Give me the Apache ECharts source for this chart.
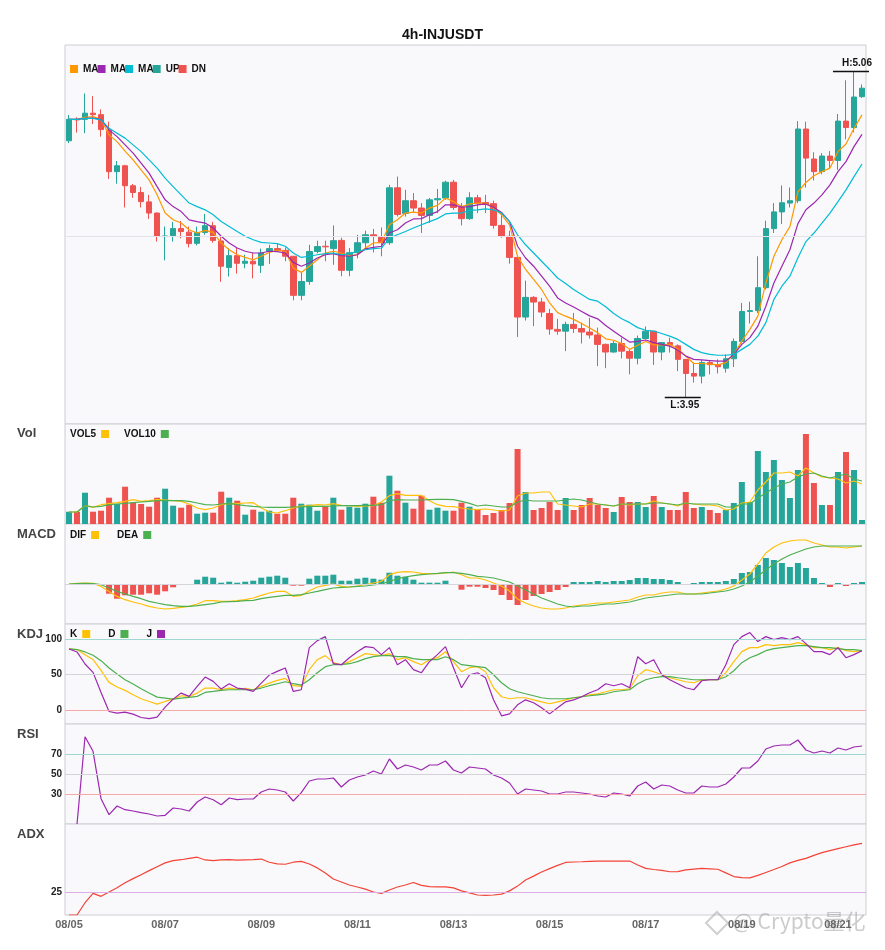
<!DOCTYPE html>
<html>
<head>
<meta charset="utf-8">
<title>4h-INJUSDT</title>
<script src="https://cdn.jsdelivr.net/npm/echarts/dist/echarts.min.js"></script>
<style>
  html, body { margin: 0; padding: 0; background: #fff; }
  #chart { width: 885px; height: 950px; }
</style>
</head>
<body>
<div id="chart"></div>
<script>
// 4h candles from 08/05 00:00 to 08/21 12:00
const days = ['08/05', '08/06', '08/07', '08/08', '08/09', '08/10', '08/11', '08/12', '08/13',
  '08/14', '08/15', '08/16', '08/17', '08/18', '08/19', '08/20', '08/21'];
const hours = ['00:00', '04:00', '08:00', '12:00', '16:00', '20:00'];
const dates = [];
days.forEach(d => hours.forEach(h => dates.push(d + ' ' + h)));
dates.length = 100;

// [open, close, low, high]
const candles = [
  [4.824, 4.897, 4.816, 4.912], [4.897, 4.895, 4.852, 4.904], [4.897, 4.918, 4.850, 4.985], [4.918, 4.913, 4.881, 4.976],
  [4.913, 4.862, 4.838, 4.931], [4.861, 4.719, 4.694, 4.889], [4.719, 4.739, 4.678, 4.755], [4.739, 4.671, 4.597, 4.742],
  [4.671, 4.648, 4.630, 4.677], [4.648, 4.617, 4.597, 4.667], [4.616, 4.578, 4.558, 4.640], [4.578, 4.499, 4.481, 4.580],
  [4.498, 4.500, 4.417, 4.532], [4.501, 4.525, 4.481, 4.548], [4.525, 4.515, 4.492, 4.551], [4.513, 4.474, 4.461, 4.532],
  [4.475, 4.512, 4.468, 4.532], [4.512, 4.535, 4.504, 4.575], [4.535, 4.485, 4.477, 4.548], [4.483, 4.397, 4.344, 4.499],
  [4.393, 4.433, 4.362, 4.459], [4.433, 4.407, 4.372, 4.459], [4.407, 4.414, 4.390, 4.436], [4.414, 4.405, 4.356, 4.442],
  [4.400, 4.442, 4.374, 4.457], [4.447, 4.457, 4.405, 4.470], [4.457, 4.451, 4.446, 4.473], [4.451, 4.431, 4.414, 4.461],
  [4.431, 4.298, 4.281, 4.431], [4.298, 4.345, 4.281, 4.376], [4.345, 4.447, 4.334, 4.470], [4.447, 4.464, 4.441, 4.484],
  [4.465, 4.463, 4.414, 4.484], [4.457, 4.484, 4.402, 4.536], [4.485, 4.383, 4.363, 4.494], [4.383, 4.443, 4.363, 4.459],
  [4.443, 4.477, 4.424, 4.504], [4.477, 4.504, 4.458, 4.518], [4.504, 4.498, 4.444, 4.524], [4.498, 4.477, 4.431, 4.529],
  [4.477, 4.664, 4.470, 4.674], [4.664, 4.573, 4.566, 4.702], [4.577, 4.620, 4.566, 4.657], [4.620, 4.595, 4.578, 4.646],
  [4.595, 4.570, 4.510, 4.612], [4.570, 4.623, 4.544, 4.629], [4.623, 4.627, 4.578, 4.660], [4.629, 4.683, 4.623, 4.688],
  [4.683, 4.597, 4.589, 4.691], [4.597, 4.559, 4.536, 4.612], [4.559, 4.630, 4.555, 4.649], [4.630, 4.612, 4.578, 4.640],
  [4.614, 4.607, 4.578, 4.640], [4.610, 4.536, 4.525, 4.620], [4.536, 4.499, 4.494, 4.581], [4.499, 4.427, 4.406, 4.518],
  [4.427, 4.224, 4.156, 4.427], [4.224, 4.291, 4.212, 4.348], [4.291, 4.275, 4.193, 4.295], [4.275, 4.241, 4.224, 4.289],
  [4.236, 4.183, 4.164, 4.252], [4.182, 4.176, 4.164, 4.218], [4.176, 4.199, 4.108, 4.208], [4.199, 4.185, 4.170, 4.238],
  [4.185, 4.173, 4.134, 4.205], [4.173, 4.163, 4.151, 4.221], [4.163, 4.131, 4.057, 4.188], [4.131, 4.105, 4.050, 4.134],
  [4.105, 4.134, 4.103, 4.142], [4.134, 4.108, 4.083, 4.154], [4.107, 4.084, 4.029, 4.116], [4.084, 4.151, 4.063, 4.161],
  [4.151, 4.176, 4.148, 4.192], [4.176, 4.105, 4.061, 4.176], [4.105, 4.137, 4.077, 4.139], [4.137, 4.130, 4.103, 4.154],
  [4.126, 4.080, 4.040, 4.131], [4.080, 4.032, 3.950, 4.080], [4.032, 4.023, 4.001, 4.069], [4.023, 4.069, 3.998, 4.078],
  [4.069, 4.062, 4.029, 4.078], [4.062, 4.055, 4.032, 4.080], [4.050, 4.082, 4.035, 4.097], [4.082, 4.141, 4.054, 4.151],
  [4.141, 4.243, 4.134, 4.272], [4.243, 4.246, 4.202, 4.276], [4.246, 4.324, 4.238, 4.431], [4.324, 4.525, 4.318, 4.552],
  [4.525, 4.582, 4.510, 4.612], [4.582, 4.613, 4.541, 4.672], [4.612, 4.620, 4.597, 4.665], [4.620, 4.864, 4.612, 4.891],
  [4.864, 4.765, 4.665, 4.889], [4.762, 4.719, 4.689, 4.785], [4.719, 4.772, 4.710, 4.782], [4.772, 4.757, 4.731, 4.789],
  [4.757, 4.891, 4.725, 4.915], [4.891, 4.869, 4.829, 5.030], [4.869, 4.973, 4.853, 5.060], [4.974, 5.003, 4.970, 5.016]
];

const ma5 = [4.897, 4.897, 4.904, 4.906, 4.897, 4.844, 4.821, 4.789, 4.759, 4.725,
  4.691, 4.640, 4.578, 4.555, 4.544, 4.521, 4.510, 4.519, 4.512, 4.476,
  4.453, 4.436, 4.427, 4.419, 4.431, 4.444, 4.451, 4.448, 4.391, 4.376,
  4.397, 4.419, 4.442, 4.448, 4.442, 4.433, 4.436, 4.459, 4.476, 4.478,
  4.538, 4.555, 4.578, 4.581, 4.578, 4.595, 4.604, 4.629, 4.617, 4.600,
  4.609, 4.612, 4.612, 4.595, 4.572, 4.538, 4.431, 4.386, 4.352, 4.318,
  4.272, 4.239, 4.227, 4.216, 4.202, 4.187, 4.171, 4.150, 4.145, 4.134,
  4.114, 4.128, 4.141, 4.129, 4.129, 4.131, 4.116, 4.091, 4.066, 4.066,
  4.064, 4.061, 4.069, 4.097, 4.142, 4.182, 4.227, 4.340, 4.431, 4.487,
  4.532, 4.650, 4.682, 4.705, 4.719, 4.731, 4.787, 4.813, 4.866, 4.912];
const ma10 = [4.897, 4.897, 4.900, 4.901, 4.897, 4.861, 4.838, 4.810, 4.782, 4.748,
  4.714, 4.668, 4.623, 4.600, 4.583, 4.555, 4.549, 4.544, 4.527, 4.499,
  4.476, 4.459, 4.448, 4.442, 4.442, 4.448, 4.447, 4.442, 4.410, 4.397,
  4.408, 4.425, 4.436, 4.440, 4.433, 4.431, 4.436, 4.456, 4.461, 4.465,
  4.510, 4.521, 4.544, 4.558, 4.559, 4.572, 4.583, 4.606, 4.606, 4.598,
  4.600, 4.606, 4.609, 4.598, 4.580, 4.549, 4.465, 4.425, 4.397, 4.363,
  4.329, 4.289, 4.272, 4.258, 4.243, 4.228, 4.218, 4.195, 4.176, 4.157,
  4.139, 4.141, 4.146, 4.137, 4.131, 4.125, 4.112, 4.091, 4.080, 4.078,
  4.076, 4.074, 4.074, 4.097, 4.131, 4.154, 4.193, 4.261, 4.340, 4.397,
  4.453, 4.542, 4.589, 4.612, 4.640, 4.674, 4.719, 4.753, 4.804, 4.846];
const ma20 = [4.897, 4.897, 4.900, 4.900, 4.895, 4.867, 4.850, 4.833, 4.810, 4.787,
  4.759, 4.731, 4.697, 4.668, 4.640, 4.612, 4.600, 4.589, 4.572, 4.549,
  4.532, 4.515, 4.499, 4.487, 4.478, 4.476, 4.474, 4.465, 4.442, 4.427,
  4.431, 4.436, 4.440, 4.442, 4.436, 4.439, 4.448, 4.453, 4.457, 4.459,
  4.493, 4.504, 4.515, 4.527, 4.538, 4.549, 4.559, 4.575, 4.578, 4.578,
  4.587, 4.589, 4.592, 4.589, 4.578, 4.549, 4.504, 4.470, 4.442, 4.414,
  4.386, 4.357, 4.338, 4.318, 4.301, 4.284, 4.278, 4.259, 4.236, 4.218,
  4.205, 4.188, 4.179, 4.176, 4.168, 4.159, 4.148, 4.131, 4.114, 4.103,
  4.097, 4.094, 4.094, 4.097, 4.114, 4.131, 4.159, 4.205, 4.284, 4.329,
  4.363, 4.426, 4.481, 4.510, 4.544, 4.578, 4.617, 4.657, 4.702, 4.745];

// volume (k)
const volume = [12.3, 12.3, 31.3, 12.3, 13.3, 26.3, 20, 37.3, 21.3, 20,
  17.3, 26.3, 35.3, 18.3, 16.3, 19.3, 10.3, 11.3, 11.3, 32.3,
  26.3, 23.3, 9.3, 14.3, 12.3, 13.3, 10.3, 10.3, 26.3, 20.3,
  19.3, 13.3, 17.3, 26.3, 14.3, 17.3, 16.3, 20.3, 27.3, 21.3,
  48.3, 33.3, 21.3, 15.3, 28.3, 14.3, 16.3, 13.3, 13.3, 21.3,
  17.3, 14.3, 9, 11, 14, 21, 75, 32, 14, 16,
  22, 14, 26, 14, 19, 26, 19, 16, 12, 27,
  22, 22, 17, 28, 17, 14, 14, 32, 16, 17,
  14, 11, 14, 21, 42, 22, 73, 52, 64, 44,
  26, 54, 90, 41, 19, 19, 52, 72, 54, 4];
const vol5 = [12, 12, 18.3, 16.6, 19.3, 20.3, 21.3, 22.6, 24.3, 22.6,
  23.3, 24.3, 24, 23.3, 22.6, 20, 16, 14.3, 16, 19.3,
  20.6, 20.3, 21, 21.3, 16, 12, 11, 13.3, 16, 18,
  18.3, 19.3, 19, 20.3, 18.6, 18.3, 17.6, 18, 18.3, 22,
  28.3, 30.3, 28.6, 28.6, 28.6, 23.3, 19.3, 17.6, 17.3, 16,
  15, 14.3, 15, 14, 13, 14, 28, 31, 31, 32,
  32, 20, 19, 18, 17, 20, 20, 19, 18, 20,
  19, 20, 20, 23, 21, 20, 18, 21, 20, 19,
  19, 18, 14, 15, 21, 22, 34, 42, 51, 51,
  52, 48, 56, 51, 47, 46, 45, 41, 43, 40];
const vol10 = [12, 12, 18.3, 17, 17.6, 19.3, 20, 20.6, 21.3, 22,
  22.6, 23.3, 23.3, 23.3, 23.3, 22.6, 21, 19.3, 19, 20,
  20.6, 19.3, 18.3, 17.6, 17, 16.6, 16.6, 16.6, 17, 17,
  17.6, 17.6, 17.6, 18, 18.3, 18.3, 18.3, 18.6, 18.6, 19.3,
  23.3, 24.3, 24, 24, 24, 24.3, 24.6, 24.6, 24.3, 22.6,
  20.6, 18, 19, 18, 17, 17, 22, 24, 23, 23,
  23, 23, 24, 25, 24, 22, 20, 19, 18, 20,
  20, 20, 20, 21, 21, 20, 19, 21, 20, 20,
  20, 20, 17, 17, 20, 20, 26, 31, 36, 40,
  42, 47, 50, 51, 48, 46, 48, 50, 45, 43];

// MACD (x1e-3)
const dif = [0, 0.6, 1, 0.6, -2.4, -7.4, -12.4, -15.7, -18, -20,
  -22.4, -24, -25, -24.4, -23.4, -22.4, -20, -16.7, -16.7, -17.4,
  -17.4, -16.7, -15.7, -14, -11.4, -9, -7.4, -7.4, -12.4, -11.4,
  -6.7, -3, -1.4, 0, -2.4, -3, -2, -0.7, 1, 2.6,
  9.3, 11.6, 12.3, 12, 10.6, 10.3, 10.3, 11, 12, 9.3,
  6, 6, 4, 1, -2, -7, -15, -19, -22, -24,
  -25, -25, -24, -22, -21, -20, -19, -19, -18, -17,
  -16, -13, -11, -11, -9, -8, -8, -10, -10, -9,
  -8, -7, -5, -2, 4, 10, 20, 31, 37, 41,
  43, 44, 44, 41, 39, 37, 37, 36, 37, 38];
const dea = [0, 0.3, 0.6, 0.3, -0.7, -4, -7.4, -10, -12.4, -14.7,
  -17.4, -19, -20.7, -21.7, -22.4, -22.4, -21.7, -20.7, -19.7, -18,
  -17.7, -17.4, -16.7, -16.4, -14.7, -13.4, -12.4, -11.4, -11.4, -10.7,
  -9, -7.4, -5.7, -4, -3.4, -3, -2.4, -2, -1, 0,
  2.6, 5.3, 7, 8.3, 9.3, 10, 10.6, 11.3, 11.3, 10.6,
  9.3, 7.6, 7, 6, 4, 2, -2, -6, -10, -14,
  -17, -20, -22, -23, -22, -22, -21, -20, -20, -19,
  -18, -16, -14, -13, -12, -11, -10, -10, -10, -10,
  -9, -8, -7, -5, -2, 2, 8, 14, 20, 25,
  29, 32, 35, 37, 38, 38, 38, 38, 38, 38];
const macdHist = [0, 0, 0, 0, -0.5, -9.7, -14.7, -11.3, -10.7, -10.7,
  -9.3, -10.7, -7.3, -3.3, -0.7, -0.3, 4.3, 7.3, 6.3, 1.3,
  2.3, 1.3, 2.3, 3.3, 6.3, 7.3, 8.3, 6.3, -1.7, -1.7,
  5.3, 8.3, 8.3, 9.3, 3.3, 3.3, 5.3, 6.3, 5.3, 4.3,
  11.3, 8.3, 7.3, 4.3, 1.3, 1.3, 1.3, 3.3, -0.7, -5.7,
  -2.7, -2.7, -4, -6, -11, -16, -21, -16, -12, -10,
  -8, -6, -3, 2, 2, 2, 3, 2, 3, 3,
  4, 6, 6, 5, 5, 4, 2, -1, 1, 2,
  2, 2, 3, 5, 11, 12, 19, 26, 24, 21,
  17, 21, 16, 6, 1, -3, 1, -2, 1, 2];

const kValues = [85.8, 85, 77.8, 70.8, 55.7, 38.7, 32.1, 27.4, 21.2, 15.6,
  11.8, 8, 11.8, 15.1, 19.8, 18.9, 23.6, 30.7, 30.7, 28.3,
  30.7, 29.2, 30.2, 28.3, 33, 37.7, 41.5, 44.3, 34, 33,
  56.6, 70.7, 76.4, 66.5, 63.6, 67.9, 73.5, 79.2, 77.8, 76.4,
  79.2, 70.7, 73.5, 67.9, 63.6, 70.7, 73.5, 82, 67.9, 53.7,
  59.4, 60.8, 53.7, 31.1, 18.4, 15.6, 17, 17, 14.1, 11.3,
  8.5, 11.3, 14.1, 17, 18.4, 21.2, 22.6, 25.5, 28.3, 28.3,
  29.7, 48.1, 56.6, 53.7, 49.5, 45.2, 42.4, 39.6, 38.2, 42.4,
  42.4, 42.4, 52.3, 67.9, 82, 87.7, 87.7, 91.9, 90.5, 91.9,
  91.9, 94.7, 91.9, 87.7, 87.7, 84.8, 87.7, 83.4, 82, 83.4];
const dValues = [85.8, 85, 81.6, 76.9, 69.3, 59, 50.5, 42.5, 36.3, 29.7,
  23.6, 17.9, 16.5, 15.1, 16.5, 17.5, 18.9, 24.5, 25.9, 27.4,
  28.3, 28.3, 28.3, 28.3, 30.7, 34, 36.8, 39.6, 36.8, 34.9,
  42.4, 52.3, 60.8, 63.6, 63.6, 65, 67.9, 72.1, 74.9, 76.4,
  76.4, 74.9, 74.9, 72.1, 70.7, 70.7, 70.7, 74.9, 70.7, 63.6,
  62.2, 60.8, 59.4, 49.5, 38.2, 29.7, 25.5, 22.6, 19.8, 17,
  15.6, 15.6, 15.6, 17, 18.4, 19.8, 21.2, 22.6, 25.5, 26.9,
  28.3, 36.8, 42.4, 45.2, 46.7, 46.7, 45.2, 43.8, 42.4, 42.4,
  42.4, 42.4, 46.7, 55.1, 66.5, 73.5, 77.8, 83.4, 86.3, 87.7,
  89.1, 90.5, 90.5, 89.1, 87.7, 87.7, 86.3, 84.8, 84.8, 83.4];
const jValues = [85.8, 81.6, 64.6, 52.8, 24.5, -2.4, -4.7, -3.3, -6.1, -10.8,
  -12.3, -10.4, 3.8, 15.1, 23.6, 18.9, 33, 46.2, 40.1, 29.2,
  36.8, 30.7, 29.2, 25.9, 37.7, 49, 54.2, 59, 25.9, 28.3,
  87.7, 97.6, 103.2, 65, 63.6, 73.5, 82, 89.1, 87.7, 77.8,
  87.7, 63.6, 70.7, 56.6, 52.3, 67.9, 77.8, 89.1, 59.4, 31.1,
  49.5, 52.3, 45.2, 14.1, -8.5, -5.7, 7.1, 14.1, 9.9, 2.8,
  -5.7, 2.8, 11.3, 14.1, 18.4, 24, 28.3, 36.8, 33.9, 36.8,
  31.1, 74.9, 65, 70.7, 49.5, 42.4, 36.8, 31.1, 28.3, 41,
  42.4, 42.4, 63.6, 91.9, 103.2, 108.9, 96.2, 103.2, 99, 101.8,
  99, 103.2, 93.3, 82, 82, 77.8, 87.7, 73.5, 77.8, 83.4];

const rsi = ['-', 0, 87.3, 72.7, 25.3, 9.3, 18, 14.3, 13, 11.3,
  10, 8, 8.7, 16, 15, 13, 22, 27, 24.3, 19.3,
  26, 24.3, 25, 25, 32, 35, 34, 32, 23, 31.3,
  43, 45, 45, 46, 37, 44, 47, 49, 53, 50,
  65, 55, 59, 57, 54, 59, 59, 63, 54, 51,
  57, 56, 55, 49, 46, 41, 30, 35, 34, 33,
  30, 30, 32, 32, 31, 30, 28, 27, 31, 30,
  28, 38, 42, 35, 39, 38, 34, 31, 31, 38,
  37, 37, 40, 47, 56, 56, 63, 75, 78, 79,
  79, 84, 74, 71, 73, 71, 76, 74, 77, 78];

const adx = [15, 15, 20.4, 24.5, 23.2, 25.1, 27, 29.2, 31, 32.7,
  34.5, 36.2, 37.9, 38.9, 39.3, 39.9, 40.4, 39.2, 38.9, 39.2,
  39.3, 39.1, 39.2, 39.3, 39.6, 38.2, 37.5, 37.3, 38.2, 38.6,
  37.4, 35.7, 33.5, 30.8, 29.5, 28.2, 27.3, 26.4, 25.1, 24.5,
  26.0, 27.3, 28.2, 29.3, 28.0, 27.5, 27.4, 27.4, 26.9, 25.6,
  24.7, 23.8, 23.6, 23.8, 24.2, 25.6, 27.7, 30.4, 32.1, 33.9,
  35.4, 36.8, 38.1, 38.3, 38.4, 38.6, 38.7, 38.7, 38.7, 38.7,
  38.7, 37.0, 35.5, 35.0, 34.6, 34.0, 34.1, 34.8, 35.2, 35.5,
  35.3, 35.1, 33.5, 31.9, 31.4, 31.3, 32.4, 33.7, 35.0, 36.3,
  37.9, 39.0, 39.9, 41.2, 42.4, 43.3, 44.2, 45.0, 45.8, 46.5];

const UP_COLOR = '#26a69a';
const DN_COLOR = '#ef5350';

const chart = echarts.init(document.getElementById('chart'));

// one grid per panel
const panels = [
  { top: 45, height: 379 },
  { top: 424, height: 100 },
  { top: 524, height: 100 },
  { top: 624, height: 100 },
  { top: 724, height: 100 },
  { top: 824, height: 91 }
];

const grids = panels.map(p => ({
  left: 65, right: 19, top: p.top, height: p.height,
  show: true, backgroundColor: '#f9f9fb', borderColor: '#cdcdd4', borderWidth: 1
}));

const xAxes = panels.map((p, i) => ({
  type: 'category', gridIndex: i, data: dates, boundaryGap: true,
  axisLine: { show: false }, axisTick: { show: false }, splitLine: { show: false },
  axisLabel: {
    show: i === panels.length - 1, interval: 11, margin: 4,
    color: '#666', fontWeight: 'bold', fontSize: 11,
    formatter: v => v.slice(0, 5)
  }
}));

const labelStyle = { color: '#222', fontWeight: 'bold', fontSize: 10, margin: 3 };
const yAxes = [
  { gridIndex: 0, min: 3.86, max: 5.15, show: false },
  { gridIndex: 1, min: 0, max: 100, show: false },
  { gridIndex: 2, min: -40, max: 60, show: false },
  { gridIndex: 3, min: -20, max: 121, axisLabel: Object.assign({ customValues: [0, 50, 100] }, labelStyle) },
  { gridIndex: 4, min: 0, max: 100, axisLabel: Object.assign({ customValues: [30, 50, 70] }, labelStyle) },
  { gridIndex: 5, min: 15, max: 55, axisLabel: Object.assign({ customValues: [25] }, labelStyle) }
];
yAxes.forEach(a => {
  a.type = 'value';
  a.splitLine = { show: false };
  a.axisLine = { show: false };
  a.axisTick = { show: false };
});

// horizontal reference levels
const levels = items => ({
  silent: true, symbol: 'none', animation: false,
  label: { show: false },
  data: items.map(([v, c]) => ({ yAxis: v, lineStyle: { color: c, width: 1, type: 'solid' } }))
});

const line = (name, data, color, idx, extra) => Object.assign({
  name, type: 'line', data, xAxisIndex: idx, yAxisIndex: idx,
  showSymbol: false, symbol: 'none', z: 4,
  lineStyle: { width: 1.2, color }, itemStyle: { color }
}, extra || {});

const isUp = c => c[1] >= c[0];
const upCandles = candles.map(c => isUp(c) ? c : '-');
const dnCandles = candles.map(c => isUp(c) ? '-' : c);

const volBars = volume.map((v, i) => ({
  value: v, itemStyle: { color: isUp(candles[i]) ? UP_COLOR : DN_COLOR }
}));
const histBars = macdHist.map(v => ({
  value: v, itemStyle: { color: v >= 0 ? UP_COLOR : DN_COLOR }
}));

const candleStyle = color => ({
  color: color, color0: color, borderColor: color, borderColor0: color, borderWidth: 1
});

const markText = { color: '#111', fontWeight: 'bold', fontSize: 10 };
const panelTitle = (text, top) => ({
  text, left: 17, top, padding: 0,
  textStyle: { fontSize: 13, fontWeight: 'bold', color: '#444' }
});
const legendText = { fontSize: 10, fontWeight: 'bold', color: '#111' };

const option = {
  animation: false,
  backgroundColor: '#fff',
  title: [
    { text: '4h-INJUSDT', left: 'center', top: 28, padding: 0,
      textStyle: { fontSize: 14, fontWeight: 'bold', color: '#111' } },
    panelTitle('Vol', 427),
    panelTitle('MACD', 528),
    panelTitle('KDJ', 628),
    panelTitle('RSI', 728),
    panelTitle('ADX', 828)
  ],
  legend: [
    { left: 70, top: 64, padding: 0, icon: 'rect', itemWidth: 8, itemHeight: 8, itemGap: -1,
      itemStyle: { borderWidth: 0 },
      data: ['MA5', 'MA10', 'MA20', 'UP', 'DN'], formatter: n => n.slice(0, 2),
      textStyle: legendText },
    { left: 70, top: 429, padding: 0, icon: 'rect', align: 'right', itemWidth: 8, itemHeight: 8, itemGap: 15,
      data: [{ name: 'VOL5', textStyle: { width: 27 } }, { name: 'VOL10', textStyle: { width: 33 } }],
      textStyle: legendText },
    { left: 70, top: 530, padding: 0, icon: 'rect', align: 'right', itemWidth: 8, itemHeight: 8, itemGap: 18,
      data: [{ name: 'DIF', textStyle: { width: 22 } }, { name: 'DEA', textStyle: { width: 25 } }],
      textStyle: legendText },
    { left: 70, top: 629, padding: 0, icon: 'rect', align: 'right', itemWidth: 8, itemHeight: 8, itemGap: 18,
      data: [{ name: 'K', textStyle: { width: 12 } }, { name: 'D', textStyle: { width: 13 } }, { name: 'J', textStyle: { width: 13 } }],
      textStyle: legendText }
  ],
  grid: grids,
  xAxis: xAxes,
  yAxis: yAxes,
  graphic: [
    { type: 'text', left: 733, top: 911, silent: true,
      style: { text: '@ Crypto量化', fill: 'rgba(160,160,160,0.55)',
        font: '21px "Noto Sans CJK SC", sans-serif' } },
    { type: 'polygon', silent: true,
      shape: { points: [[717, 912], [728, 923], [717, 934], [706, 923]] },
      style: { fill: 'none', stroke: 'rgba(170,170,170,0.55)', lineWidth: 2 } }
  ],
  series: [
    {
      name: 'UP', type: 'candlestick', data: upCandles, xAxisIndex: 0, yAxisIndex: 0,
      barWidth: 6, itemStyle: candleStyle(UP_COLOR),
      markPoint: {
        silent: true, symbol: 'rect', symbolSize: [36, 1.5], symbolOffset: [-3, 0],
        itemStyle: { color: '#111' },
        label: Object.assign({ position: 'top', distance: 2, offset: [6, 0], formatter: 'H:5.06' }, markText),
        data: [{ coord: [98, 5.06] }]
      },
      markLine: levels([[4.505, '#e2e2e8']])
    },
    {
      name: 'DN', type: 'candlestick', data: dnCandles, xAxisIndex: 0, yAxisIndex: 0,
      barWidth: 6, itemStyle: candleStyle(DN_COLOR),
      markPoint: {
        silent: true, symbol: 'rect', symbolSize: [36, 1.5], symbolOffset: [-3, 0],
        itemStyle: { color: '#111' },
        label: Object.assign({ position: 'bottom', distance: 2, offset: [2, 0], formatter: 'L:3.95' }, markText),
        data: [{ coord: [77, 3.95] }]
      }
    },
    line('MA5', ma5, '#ff9800', 0),
    line('MA10', ma10, '#9c27b0', 0),
    line('MA20', ma20, '#00bcd4', 0),

    { name: 'Volume', type: 'bar', data: volBars, xAxisIndex: 1, yAxisIndex: 1, barWidth: 6 },
    line('VOL5', vol5, '#ffc107', 1),
    line('VOL10', vol10, '#4caf50', 1),

    { name: 'MACD', type: 'bar', data: histBars, xAxisIndex: 2, yAxisIndex: 2, barWidth: 6,
      markLine: levels([[0, '#d4d4da']]) },
    line('DIF', dif, '#ffc107', 2),
    line('DEA', dea, '#4caf50', 2),

    line('K', kValues, '#ffc107', 3, {
      markLine: levels([[100, '#9fd8d2'], [50, '#d2d2d8'], [0, '#f5a9a9']])
    }),
    line('D', dValues, '#4caf50', 3),
    line('J', jValues, '#9c27b0', 3),

    line('RSI', rsi, '#9c27b0', 4, {
      markLine: levels([[70, '#9fd8d2'], [50, '#d2d2d8'], [30, '#f5a9a9']])
    }),

    line('ADX', adx, '#f44336', 5, {
      markLine: levels([[25, '#ddaee6']])
    })
  ]
};

chart.setOption(option);
</script>
</body>
</html>
